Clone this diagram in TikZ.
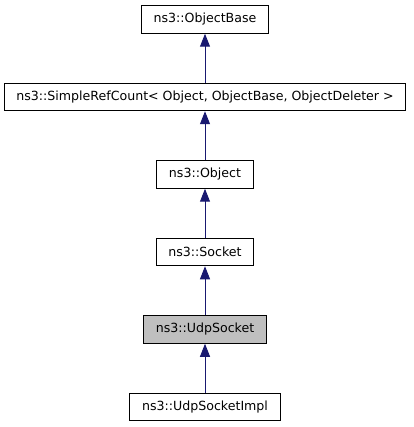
\documentclass[tikz,border=0pt]{standalone}
\usepackage{fontspec}
\setmainfont{DejaVu Sans}
\usepackage{tikz}
\usetikzlibrary{positioning,arrows.meta}
\definecolor{edgeblue}{HTML}{191970}
\definecolor{nodegray}{HTML}{BFBFBF}

\begin{document}
\begin{tikzpicture}[x=1pt, y=1pt, node distance=49pt, font=\fontsize{12.6}{14}\selectfont, box/.style={draw, rectangle, line width=1pt, align=center, inner xsep=12.2pt, minimum height=27.5pt}, arrow/.style={draw=edgeblue, line width=1pt, -{Triangle[length=13pt, width=10pt]}}]
    \useasboundingbox (0,0) rectangle (413,-427);
    % nodes
    \node[box] (ObjectBase) at (205,-19.5) {ns3::ObjectBase};
    \node[box] (SimpleRefCount) [below=of ObjectBase] {ns3::SimpleRefCount< Object, ObjectBase, ObjectDeleter >};
    \node[box] (Object) [below=of SimpleRefCount] {ns3::Object};
    \node[box] (Socket) [below=of Object] {ns3::Socket};
    \node[box, fill=nodegray] (UdpSocket) [below=of Socket] {ns3::UdpSocket};
    \node[box] (UdpSocketImpl) [below=of UdpSocket] {ns3::UdpSocketImpl};

    % arrows
    \draw[arrow] (SimpleRefCount) -- (ObjectBase);
    \draw[arrow] (Object) -- (SimpleRefCount);
    \draw[arrow] (Socket) -- (Object);
    \draw[arrow] (UdpSocket) -- (Socket);
    \draw[arrow] (UdpSocketImpl) -- (UdpSocket);
\end{tikzpicture}
\end{document}
